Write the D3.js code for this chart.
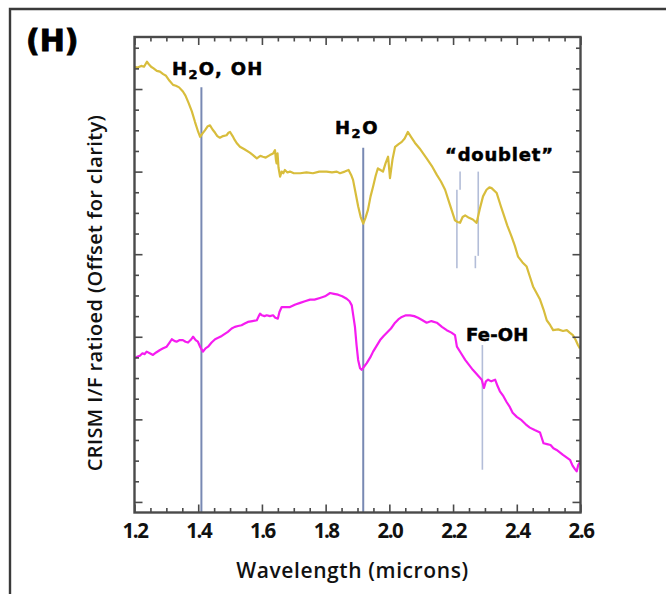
<!DOCTYPE html>
<html><head><meta charset="utf-8">
<script src="https://cdn.jsdelivr.net/npm/d3@7"></script>
<style>
html,body{margin:0;padding:0;background:#fff;}
svg{display:block;}
</style></head>
<body>
<svg id="chart" width="666" height="594"></svg>
<script>
// ---- data ----
const xTickLabels = [1.2, 1.4, 1.6, 1.8, 2.0, 2.2, 2.4, 2.6];
const goldWavelength = [1.200,1.210,1.221,1.230,1.239,1.245,1.252,1.260,1.270,1.280,1.290,1.299,1.310,1.321,1.330,1.340,1.352,1.360,1.370,1.380,1.390,1.400,1.406,1.413,1.421,1.430,1.437,1.445,1.453,1.460,1.468,1.478,1.489,1.495,1.500,1.508,1.515,1.522,1.531,1.545,1.562,1.572,1.584,1.595,1.603,1.612,1.625,1.635,1.641,1.644,1.646,1.649,1.652,1.657,1.662,1.667,1.672,1.680,1.688,1.700,1.720,1.740,1.760,1.780,1.803,1.820,1.835,1.845,1.860,1.872,1.880,1.886,1.894,1.902,1.910,1.918,1.925,1.933,1.941,1.949,1.957,1.964,1.972,1.980,1.988,1.996,2.002,2.010,2.018,2.028,2.039,2.048,2.058,2.068,2.080,2.095,2.117,2.133,2.149,2.162,2.175,2.190,2.206,2.214,2.222,2.230,2.238,2.250,2.262,2.274,2.284,2.294,2.305,2.314,2.321,2.337,2.350,2.357,2.370,2.384,2.394,2.404,2.418,2.431,2.441,2.451,2.462,2.473,2.484,2.494,2.505,2.514,2.530,2.545,2.557,2.566,2.576,2.585,2.592,2.598];
const goldValue = [5.27,5.26,5.28,5.27,5.33,5.30,5.27,5.25,5.22,5.21,5.18,5.16,5.10,5.05,5.04,5.02,4.97,4.92,4.83,4.73,4.60,4.48,4.42,4.46,4.50,4.55,4.56,4.51,4.47,4.43,4.41,4.43,4.44,4.47,4.48,4.43,4.38,4.34,4.30,4.27,4.23,4.20,4.16,4.19,4.18,4.17,4.20,4.22,4.26,4.14,4.10,4.22,4.05,3.94,4.00,3.98,4.02,3.99,4.00,3.98,3.98,3.99,3.98,4.00,4.00,3.99,4.00,3.98,4.00,4.02,3.96,3.90,3.74,3.58,3.45,3.37,3.44,3.54,3.70,3.82,3.95,4.04,4.02,4.00,4.10,4.18,3.92,4.15,4.30,4.33,4.36,4.40,4.48,4.42,4.35,4.28,4.16,4.07,3.96,3.88,3.78,3.60,3.41,3.39,3.38,3.45,3.47,3.44,3.42,3.38,3.55,3.70,3.78,3.81,3.80,3.74,3.58,3.50,3.35,3.21,3.10,2.97,2.90,2.85,2.73,2.61,2.53,2.45,2.33,2.20,2.14,2.08,2.09,2.07,2.08,2.05,2.02,1.96,1.90,1.86];
const magentaWavelength = [1.200,1.210,1.217,1.225,1.232,1.238,1.248,1.258,1.268,1.280,1.290,1.301,1.310,1.317,1.325,1.332,1.342,1.352,1.360,1.368,1.376,1.384,1.392,1.399,1.407,1.415,1.423,1.431,1.442,1.453,1.464,1.474,1.493,1.505,1.515,1.525,1.536,1.546,1.556,1.570,1.584,1.590,1.594,1.600,1.608,1.615,1.625,1.635,1.642,1.650,1.655,1.662,1.675,1.688,1.705,1.720,1.735,1.751,1.765,1.782,1.798,1.814,1.826,1.839,1.852,1.866,1.875,1.882,1.887,1.892,1.897,1.902,1.908,1.913,1.921,1.929,1.940,1.949,1.960,1.971,1.982,1.992,2.005,2.018,2.028,2.039,2.052,2.065,2.078,2.090,2.104,2.117,2.132,2.149,2.165,2.180,2.195,2.206,2.212,2.225,2.238,2.250,2.262,2.276,2.290,2.297,2.303,2.310,2.320,2.332,2.340,2.347,2.358,2.368,2.378,2.387,2.400,2.415,2.428,2.441,2.456,2.473,2.478,2.484,2.495,2.506,2.515,2.525,2.535,2.545,2.556,2.567,2.575,2.582,2.588,2.593,2.598];
const magentaValue = [1.74,1.76,1.77,1.80,1.79,1.82,1.80,1.78,1.81,1.84,1.86,1.88,1.93,1.97,1.95,1.94,1.96,1.96,1.94,1.93,1.96,2.00,1.96,1.94,1.87,1.82,1.86,1.88,1.93,1.97,1.99,2.01,2.06,2.10,2.12,2.13,2.14,2.16,2.18,2.19,2.20,2.25,2.28,2.26,2.25,2.26,2.25,2.26,2.23,2.22,2.30,2.36,2.36,2.36,2.39,2.41,2.43,2.45,2.45,2.47,2.49,2.53,2.52,2.51,2.49,2.46,2.43,2.38,2.25,2.12,1.90,1.72,1.62,1.60,1.64,1.68,1.75,1.82,1.89,1.96,2.01,2.05,2.10,2.17,2.21,2.24,2.26,2.26,2.25,2.23,2.20,2.17,2.19,2.17,2.12,2.08,2.05,2.02,1.88,1.80,1.72,1.66,1.60,1.54,1.48,1.38,1.46,1.48,1.46,1.48,1.40,1.34,1.28,1.21,1.15,1.08,1.03,0.99,0.94,0.90,0.87,0.84,0.78,0.71,0.70,0.69,0.65,0.63,0.60,0.57,0.54,0.51,0.44,0.40,0.37,0.45,0.48];
// absorption-feature marker lines: [wavelength, top value, bottom value]
const featureLines = [[1.410, 5.02, -0.13], [1.918, 4.29, -0.13]];
const thinLines = [[2.222, 4.00, 3.78], [2.212, 3.78, 2.83], [2.279, 4.00, 2.98], [2.270, 2.98, 2.83], [2.292, 1.90, 0.39]];
const featureLabels = ["H2O, OH", "H2O", "\u201Cdoublet\u201D", "Fe-OH"];
const panelLabel = "(H)";
const xTitle = "Wavelength (microns)";
const yTitle = "CRISM I/F ratioed (Offset for clarity)";

// ---- layout ----
const svg = d3.select("#chart");
const L = 134.5, R = 580.5, T = 37, B = 512.5;
const x = d3.scaleLinear().domain([1.2, 2.6]).range([L, R]);
const y = d3.scaleLinear().domain([-0.128, 5.63]).range([B, T]);

// outer frame
svg.append("path").attr("d", `M10,600 L10,9 L670,9`).attr("fill","none").attr("stroke","#3a3a3a").attr("stroke-width",2.4);

// panel label
svg.append("text").attr("x", 26).attr("y", 51).text(panelLabel)
  .attr("font-family","DejaVu Sans").attr("font-weight","bold").attr("font-size",30)
  .attr("fill","#000").attr("stroke","#000").attr("stroke-width",0.9);

// feature lines
const g = svg.append("g");
g.selectAll("line.feat").data(featureLines).join("line").attr("class","feat")
  .attr("x1", d=>x(d[0])).attr("x2", d=>x(d[0])).attr("y1", d=>y(d[1])).attr("y2", d=>y(d[2]))
  .attr("stroke","#7889b3").attr("stroke-width",2);
g.selectAll("line.thin").data(thinLines).join("line").attr("class","thin")
  .attr("x1", d=>x(d[0])).attr("x2", d=>x(d[0])).attr("y1", d=>y(d[1])).attr("y2", d=>y(d[2]))
  .attr("stroke","#b3bdd8").attr("stroke-width",1.6);

// spectra
const line = d3.line().x(d=>x(d[0])).y(d=>y(d[1]));
const gold = goldWavelength.map((w,i)=>[w, goldValue[i]]);
const mag = magentaWavelength.map((w,i)=>[w, magentaValue[i]]);
g.append("path").datum(gold).attr("d", line).attr("fill","none").attr("stroke","#d8bd3c").attr("stroke-width",2.2).attr("stroke-linejoin","round");
g.append("path").datum(mag).attr("d", line).attr("fill","none").attr("stroke","#f51cf0").attr("stroke-width",2.2).attr("stroke-linejoin","round");

// axes (ticks inward on all four sides)
const frameColor = "#4a4a4a";
function styleAxis(sel){
  sel.select(".domain").remove();
  sel.selectAll(".tick line").attr("stroke", frameColor).attr("stroke-width",1.6);
}
const xMinor = d3.range(1.25, 2.6, 0.05).filter(v => Math.abs((v*10/2) - Math.round(v*10/2)) > 1e-6);
const xMajor = xTickLabels;
const yMajor = d3.range(0, 6, 1);
const yMinor = d3.range(-0.0, 5.63, 0.25).filter(v => Math.abs(v - Math.round(v)) > 1e-6);

function xAx(pos, vals, len, labels){
  const ax = (pos === "bottom" ? d3.axisBottom(x) : d3.axisTop(x)).tickValues(vals).tickSizeInner(-len).tickSizeOuter(0)
    .tickFormat(labels ? d3.format(".1f") : "");
  const sel = svg.append("g").attr("transform", `translate(0,${pos==="bottom"?B:T})`).call(ax);
  styleAxis(sel);
  return sel;
}
function yAx(pos, vals, len){
  const ax = (pos === "left" ? d3.axisLeft(y) : d3.axisRight(y)).tickValues(vals).tickSizeInner(-len).tickSizeOuter(0).tickFormat("");
  const sel = svg.append("g").attr("transform", `translate(${pos==="left"?L:R},0)`).call(ax);
  styleAxis(sel);
  sel.selectAll("text").remove();
}
const xb = xAx("bottom", xMajor, 8, true);
xb.selectAll("text").attr("font-family","Open Sans").attr("font-weight",700).attr("font-size",20.5)
  .attr("letter-spacing","-1.5px").attr("fill","#111").attr("dy","0.95em").attr("y", 6);
xAx("bottom", xMinor, 4.5, false).selectAll("text").remove();
xAx("top", xMajor, 8, false).selectAll("text").remove();
xAx("top", xMinor, 4.5, false).selectAll("text").remove();
yAx("left", yMajor, 8); yAx("left", yMinor, 4.5);
yAx("right", yMajor, 8); yAx("right", yMinor, 4.5);

// plot frame
svg.append("rect").attr("x",L).attr("y",T).attr("width",R-L).attr("height",B-T)
  .attr("fill","none").attr("stroke",frameColor).attr("stroke-width",2.4);

// axis titles
svg.append("text").attr("x", (L+R)/2-5).attr("y", 578).attr("text-anchor","middle").text(xTitle)
  .attr("font-family","Open Sans").attr("font-weight",600).attr("font-size",21).attr("letter-spacing","0.6px").attr("fill","#111");
svg.append("text").attr("transform","translate(102,293) rotate(-90)").attr("text-anchor","middle").text(yTitle)
  .attr("font-family","Open Sans").attr("font-weight",600).attr("font-size",20).attr("letter-spacing","0.4px").attr("fill","#111");

// feature labels
function subLabel(xp, yp, parts){
  const t = svg.append("text").attr("x", xp).attr("y", yp)
    .attr("font-family","DejaVu Sans").attr("font-weight","bold").attr("font-size",18)
    .attr("fill","#000").attr("stroke","#000").attr("stroke-width",0.5);
  parts.forEach(p => {
    const s = t.append("tspan").text(p.t);
    if (p.sub) s.attr("font-size",13).attr("dy",4);
    if (p.after) s.attr("dy",-4);
  });
  return t;
}
function splitH2O(label){
  const i = label.indexOf("2");
  return [{t: label.slice(0,i)}, {t: "2", sub: true}, {t: label.slice(i+1), after: true}];
}
subLabel(172, 75, splitH2O(featureLabels[0])).attr("letter-spacing","1.3px");
subLabel(335, 134, splitH2O(featureLabels[1])).attr("letter-spacing","1.5px");
subLabel(445, 161, [{t: featureLabels[2]}]).attr("letter-spacing","0.8px");
subLabel(466, 341, [{t: featureLabels[3]}]).attr("letter-spacing","0.2px");
</script>
</body></html>
